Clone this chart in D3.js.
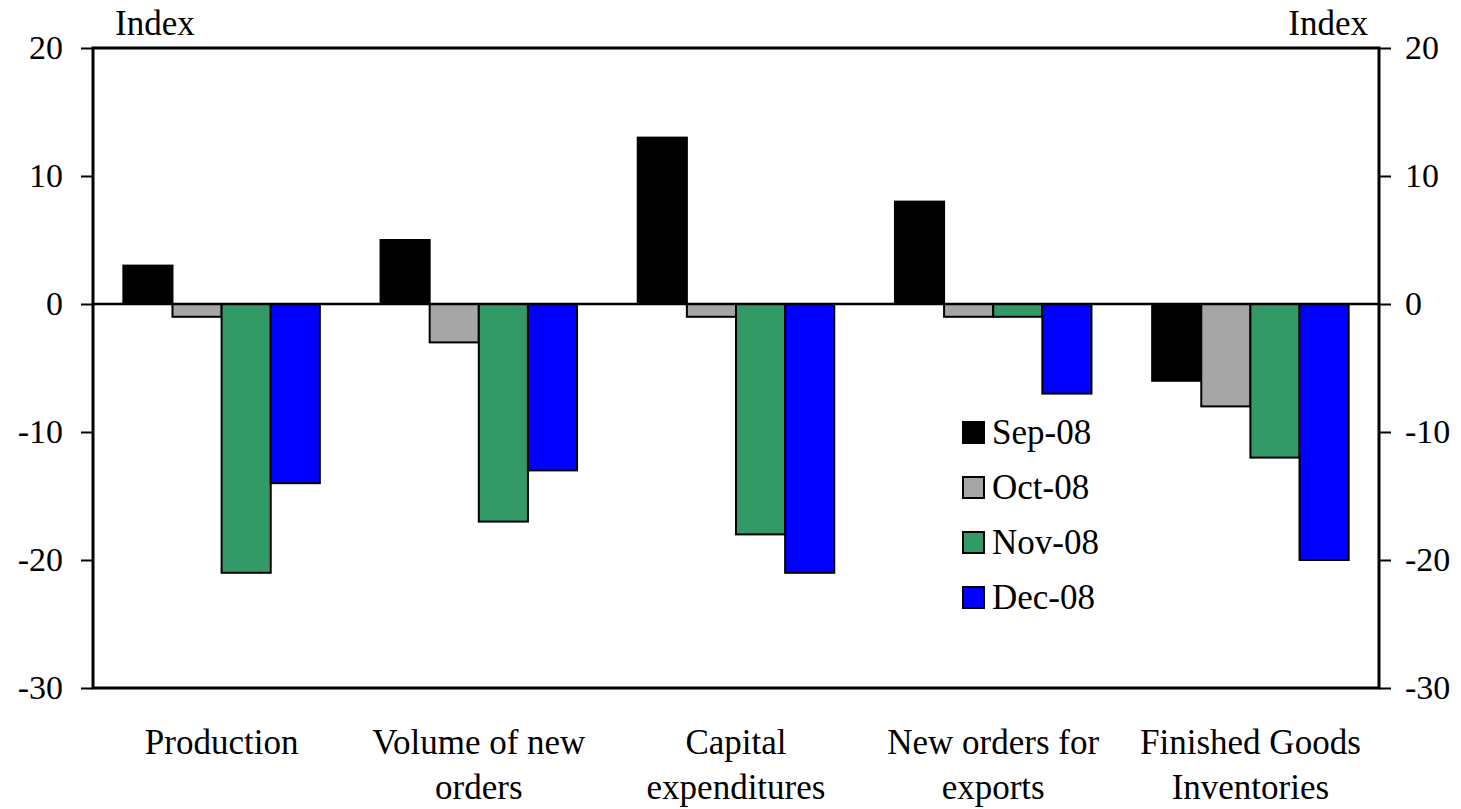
<!DOCTYPE html>
<html><head><meta charset="utf-8">
<script src="https://cdn.jsdelivr.net/npm/d3@7"></script>
<style>body{margin:0;background:#fff}</style>
</head><body><svg id="c" width="1461" height="809"></svg>
<script>
const categories = [["Production"],["Volume of new","orders"],["Capital","expenditures"],["New orders for","exports"],["Finished Goods","Inventories"]];
const seriesNames = ["Sep-08","Oct-08","Nov-08","Dec-08"];
const sep08 = [3, 5, 13, 8, -6];
const oct08 = [-1, -3, -1, -1, -8];
const nov08 = [-21, -17, -18, -1, -12];
const dec08 = [-14, -13, -21, -7, -20];
const yTicks = [20, 10, 0, -10, -20, -30];
const colors = ["#000000","#a6a6a6","#339966","#0000ff"];
const series = [sep08, oct08, nov08, dec08];

const FONT = '"Liberation Serif", "Times New Roman", Times, serif';
const svg = d3.select("#c");
const L = 93, R = 1379, T = 48, B = 688;
const y = d3.scaleLinear().domain([-30, 20]).range([B, T]);
const x0 = d3.scaleBand().domain(d3.range(categories.length)).range([L, R]).paddingInner(0.236).paddingOuter(0.118);
const x1 = d3.scaleBand().domain(d3.range(series.length)).range([0, x0.bandwidth()]);

// bars
series.forEach((s, si) => {
  svg.append("g").selectAll("rect").data(s).join("rect")
    .attr("x", (d, i) => x0(i) + x1(si))
    .attr("width", x1.bandwidth())
    .attr("y", d => y(Math.max(0, d)))
    .attr("height", d => Math.abs(y(d) - y(0)))
    .attr("fill", colors[si]).attr("stroke", "#000").attr("stroke-width", 2);
});

// zero line
svg.append("line").attr("x1", L).attr("x2", R).attr("y1", y(0)).attr("y2", y(0)).attr("stroke", "#000").attr("stroke-width", 2.5);

// frame
svg.append("rect").attr("x", L).attr("y", T).attr("width", R - L).attr("height", B - T)
  .attr("fill", "none").attr("stroke", "#000").attr("stroke-width", 3);

// axes
const fmt = d => String(d);
const left = d3.axisLeft(y).tickValues(yTicks).tickSize(12).tickPadding(18).tickFormat(fmt);
const right = d3.axisRight(y).tickValues(yTicks).tickSize(12).tickPadding(14).tickFormat(fmt);
const gl = svg.append("g").attr("transform", `translate(${L},0)`).call(left);
const gr = svg.append("g").attr("transform", `translate(${R},0)`).call(right);
[gl, gr].forEach(g => {
  g.attr("font-family", null).attr("font-size", null);
  g.select(".domain").remove();
  g.selectAll(".tick line").attr("stroke", "#000").attr("stroke-width", 2);
  g.selectAll(".tick text").style("font-size", "34px").style("font-family", FONT).attr("fill", "#000");
});

// Index labels
svg.append("text").attr("x", 115).attr("y", 35).style("font-family", FONT).style("font-size", "35px").text("Index");
svg.append("text").attr("x", 1368).attr("y", 35).attr("text-anchor", "end").style("font-family", FONT).style("font-size", "35px").text("Index");

// category labels
categories.forEach((lines, i) => {
  const cx = x0(i) + x0.bandwidth() / 2;
  const t = svg.append("text").attr("text-anchor", "middle").style("font-family", FONT).style("font-size", "35px");
  lines.forEach((ln, li) => t.append("tspan").attr("x", cx).attr("y", 754 + li * 45).text(ln));
});

// legend
const lg = svg.append("g").attr("transform", "translate(962,421)");
seriesNames.forEach((n, i) => {
  const g = lg.append("g").attr("transform", `translate(0,${i * 55})`);
  g.append("rect").attr("x", 1).attr("y", 1).attr("width", 21).attr("height", 21).attr("fill", colors[i]).attr("stroke", "#000").attr("stroke-width", 2);
  g.append("text").attr("x", 30).attr("y", 23).style("font-family", FONT).style("font-size", "35px").text(n);
});
</script></body></html>
